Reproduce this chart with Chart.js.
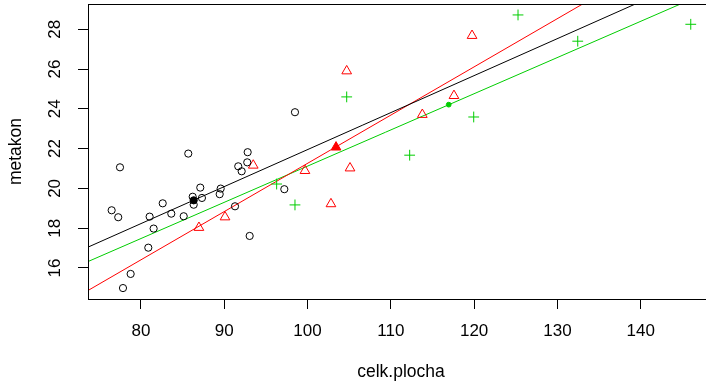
<!DOCTYPE html>
<html>
<head>
<meta charset="utf-8">
<title>metakon ~ celk.plocha</title>
<script src="https://cdn.jsdelivr.net/npm/chart.js@4.4.1/dist/chart.umd.min.js"></script>
<style>
  html, body { margin: 0; padding: 0; background: #fff; overflow: hidden; }
  canvas { display: block; }
</style>
</head>
<body>
<canvas id="plot" width="715" height="386"></canvas>
<script>
// group 1 (open circles)
const g1X = [76.48, 77.27, 77.48, 77.84, 78.76, 80.88, 81.04, 81.52, 82.61, 83.64, 85.13, 85.68, 86.21,
             86.33, 87.12, 87.32, 89.45, 89.57, 91.29, 91.68, 92.09, 92.81, 92.76, 93.05, 97.21, 98.49];
const g1Y = [18.90, 18.55, 21.06, 14.99, 15.70, 17.02, 18.58, 17.98, 19.25, 18.73, 18.60, 21.75, 19.58,
             19.18, 20.04, 19.52, 19.71, 19.99, 19.10, 21.11, 20.86, 21.82, 21.31, 17.61, 19.96, 23.83];
// group 2 (triangles)
const g2X = [86.96, 90.09, 93.48, 99.69, 102.81, 104.70, 105.10, 113.78, 117.58, 119.75];
const g2Y = [18.03, 18.56, 21.16, 20.89, 19.22, 25.90, 21.02, 23.71, 24.66, 27.68];
// group 3 (plus signs)
const g3X = [96.29, 98.49, 104.70, 112.26, 119.95, 125.27, 132.44, 146.01];
const g3Y = [20.22, 19.17, 24.60, 21.67, 23.59, 28.72, 27.40, 28.25];

// group means and fitted lines y = a + b*x
const meanX = [86.33, 103.42, 116.95];
const meanY = [19.40, 22.07, 24.21];
const intercepts = [3.35, -2.99, 2.92];
const slopes = [0.186, 0.2425, 0.182];

const xTicks = [80, 90, 100, 110, 120, 130, 140];
const yTicks = [16, 18, 20, 22, 24, 26, 28];
const xLim = [73.64, 148.80];
const yLim = [14.44, 29.27];

const cols = ['#000000', '#FF0000', '#00CD00'];
const pts = (xs, ys) => xs.map((x, i) => ({ x, y: ys[i] }));

Chart.defaults.font.family = "'Liberation Sans', Arial, Helvetica, sans-serif";
Chart.defaults.color = '#000';

function fitLine(k) {
  return {
    data: xLim.map(x => ({ x, y: intercepts[k] + slopes[k] * x })),
    showLine: true, pointRadius: 0, borderColor: cols[k], borderWidth: 1
  };
}

// fixed axis sizes, no extra room for overhanging end labels
function fixSize(prop, size) {
  return s => {
    s[prop] = size;
    s.paddingTop = s.paddingBottom = s.paddingLeft = s.paddingRight = 0;
  };
}

// R-style frame round the plot region
const boxPlugin = {
  id: 'box',
  afterDatasetsDraw(chart) {
    const { ctx, chartArea: a } = chart;
    ctx.save();
    ctx.strokeStyle = '#000';
    ctx.lineWidth = 1;
    ctx.strokeRect(a.left + 0.5, a.top + 0.5, a.right - a.left, a.bottom - a.top);
    ctx.restore();
  }
};

new Chart(document.getElementById('plot'), {
  type: 'scatter',
  data: {
    datasets: [
      { data: pts(g1X, g1Y), pointStyle: 'circle', pointRadius: 3.6, borderColor: cols[0], backgroundColor: 'transparent', borderWidth: 1 },
      { data: pts(g2X, g2Y), pointStyle: 'triangle', pointRadius: 5.6, borderColor: cols[1], backgroundColor: 'transparent', borderWidth: 1 },
      { data: pts(g3X, g3Y), pointStyle: 'cross', pointRadius: 5.4, borderColor: cols[2], borderWidth: 1 },
      { data: [{ x: meanX[0], y: meanY[0] }], pointStyle: 'circle', pointRadius: 3.6, borderColor: cols[0], backgroundColor: cols[0], borderWidth: 1 },
      { data: [{ x: meanX[1], y: meanY[1] }], pointStyle: 'triangle', pointRadius: 5.6, borderColor: cols[1], backgroundColor: cols[1], borderWidth: 1 },
      { data: [{ x: meanX[2], y: meanY[2] }], pointStyle: 'circle', pointRadius: 2.4, borderColor: cols[2], backgroundColor: cols[2], borderWidth: 1 },
      fitLine(0),
      fitLine(1),
      fitLine(2)
    ]
  },
  options: {
    responsive: false,
    devicePixelRatio: 1,
    animation: false,
    events: [],
    layout: { autoPadding: false, padding: { top: 4, right: 1, left: 0, bottom: 0 } },
    plugins: { legend: { display: false }, tooltip: { enabled: false } },
    scales: {
      x: {
        type: 'linear',
        min: xLim[0], max: xLim[1],
        afterBuildTicks: s => { s.ticks = xTicks.map(v => ({ value: v })); },
        afterFit: fixSize('height', 87),
        border: { display: false },
        grid: { drawOnChartArea: false, drawTicks: true, tickLength: 10, color: '#000', lineWidth: 1 },
        ticks: { autoSkip: false, maxRotation: 0, padding: 12, font: { size: 17 } },
        title: { display: true, text: 'celk.plocha', font: { size: 17.5 }, padding: { top: 0, bottom: 3 } }
      },
      y: {
        type: 'linear',
        min: yLim[0], max: yLim[1],
        afterBuildTicks: s => { s.ticks = yTicks.map(v => ({ value: v })); },
        afterFit: fixSize('width', 88),
        border: { display: false },
        grid: { drawOnChartArea: false, drawTicks: true, tickLength: 10, color: '#000', lineWidth: 1 },
        ticks: { autoSkip: false, minRotation: 90, maxRotation: 90, crossAlign: 'center', padding: 13, font: { size: 17 } },
        title: { display: true, text: 'metakon', font: { size: 17.5 }, padding: { top: 5.6, bottom: 0 } }
      }
    }
  },
  plugins: [boxPlugin]
});
</script>
</body>
</html>
